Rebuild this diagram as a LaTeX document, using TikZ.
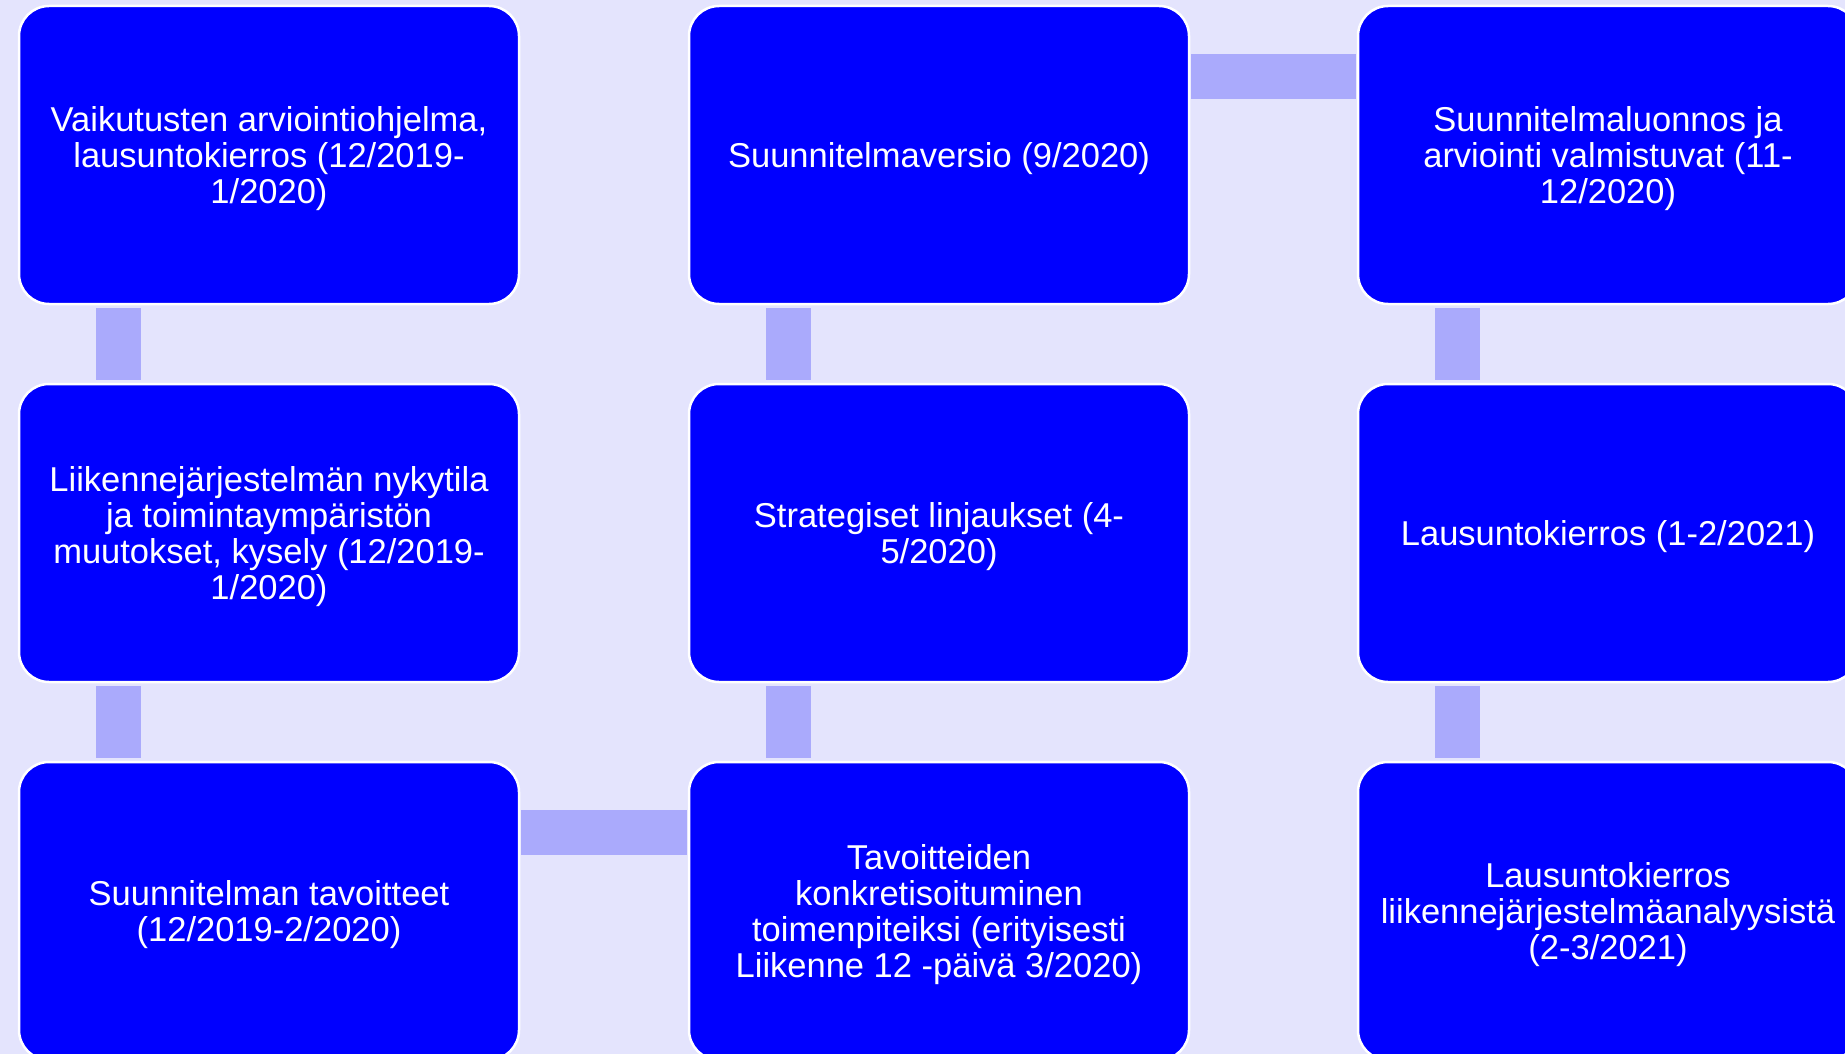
\documentclass[tikz,border=0pt]{standalone}
\usepackage{fontspec}
\setmainfont{Liberation Sans}
\definecolor{bgc}{RGB}{228,228,253}
\definecolor{boxc}{RGB}{0,0,255}
\definecolor{connc}{RGB}{170,170,252}
\tikzset{
  stage/.style={draw=white, line width=2.5pt, fill=boxc, rounded corners=30pt,
    minimum width=500pt, minimum height=298pt, inner sep=0pt},
  lab/.style={text=white, align=center, font=\fontsize{34.5}{36}\selectfont,
    inner sep=0pt, yshift=-3.5pt},
  conn/.style={draw=connc, line width=45pt}
}
\begin{document}
\begin{tikzpicture}[x=1pt,y=-1pt]
\useasboundingbox (0,0) rectangle (1845,1054);
\clip (0,0) rectangle (1845,1054);
\fill[bgc] (0,0) rectangle (1845,1054);
% row 1
\node[stage, label={[lab]center:{Vaikutusten arviointiohjelma,\\lausuntokierros (12/2019-\\1/2020)}}] (b1) at (269,155) {};
\node[stage, label={[lab]center:{Suunnitelmaversio (9/2020)}}] (b2) at (939,155) {};
\node[stage, label={[lab]center:{Suunnitelmaluonnos ja\\arviointi valmistuvat (11-\\12/2020)}}] (b3) at (1608,155) {};
% row 2
\node[stage, label={[lab]center:{Liikennejärjestelmän nykytila\\ja toimintaympäristön\\muutokset, kysely (12/2019-\\1/2020)}}] (b4) at (269,533) {};
\node[stage, label={[lab]center:{Strategiset linjaukset (4-\\5/2020)}}] (b5) at (939,533) {};
\node[stage, label={[lab]center:{Lausuntokierros (1-2/2021)}}] (b6) at (1608,533) {};
% row 3
\node[stage, label={[lab]center:{Suunnitelman tavoitteet\\(12/2019-2/2020)}}] (b7) at (269,911) {};
\node[stage, label={[lab]center:{Tavoitteiden\\konkretisoituminen\\toimenpiteiksi (erityisesti\\Liikenne 12 -päivä 3/2020)}}] (b8) at (939,911) {};
\node[stage, label={[lab]center:{Lausuntokierros\\liikennejärjestelmäanalyysistä\\(2-3/2021)}}] (b9) at (1608,911) {};
% connectors
\draw[conn, shorten <=3pt, shorten >=3pt] ([xshift=100.5pt]b1.south west) -- ([xshift=100.5pt]b4.north west);
\draw[conn, shorten <=3pt, shorten >=3pt] ([xshift=100.5pt]b4.south west) -- ([xshift=100.5pt]b7.north west);
\draw[conn, shorten <=3pt, shorten >=3pt] ([xshift=100.5pt]b8.north west) -- ([xshift=100.5pt]b5.south west);
\draw[conn, shorten <=3pt, shorten >=3pt] ([xshift=100.5pt]b5.north west) -- ([xshift=100.5pt]b2.south west);
\draw[conn, shorten <=3pt, shorten >=3pt] ([xshift=100.5pt]b3.south west) -- ([xshift=100.5pt]b6.north west);
\draw[conn, shorten <=3pt, shorten >=3pt] ([xshift=100.5pt]b6.south west) -- ([xshift=100.5pt]b9.north west);
\draw[conn, shorten <=1pt, shorten >=1pt] ([yshift=-72pt]b7.north east) -- ([yshift=-72pt]b8.north west);
\draw[conn, shorten <=1pt, shorten >=1pt] ([yshift=-72pt]b2.north east) -- ([yshift=-72pt]b3.north west);
\end{tikzpicture}
\end{document}
